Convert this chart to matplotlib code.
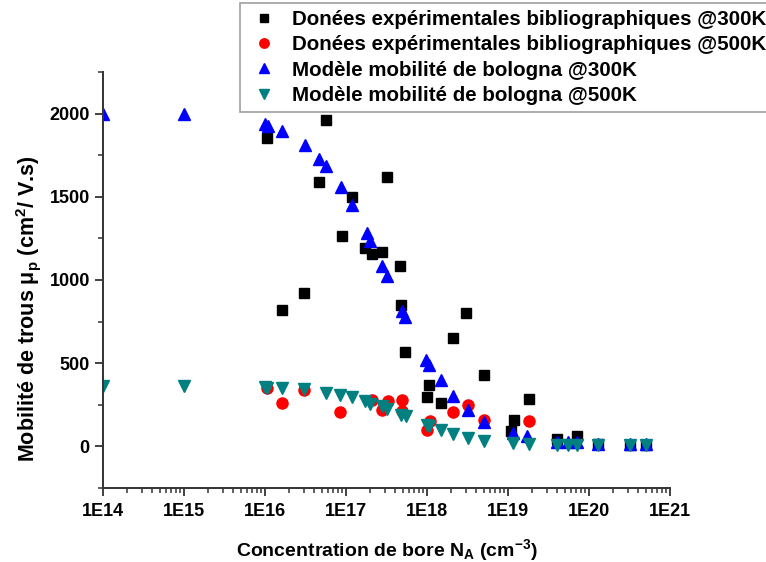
import math
import matplotlib
matplotlib.use("Agg")
import matplotlib.pyplot as plt
from matplotlib.ticker import LogLocator, FixedLocator, NullFormatter, FuncFormatter

plt.rcParams['font.family'] = ['Liberation Sans', 'DejaVu Sans']
plt.rcParams['font.weight'] = 'bold'
plt.rcParams['mathtext.fontset'] = 'custom'
plt.rcParams['mathtext.rm'] = 'Liberation Sans:bold'
plt.rcParams['mathtext.it'] = 'Liberation Sans:bold'
plt.rcParams['mathtext.bf'] = 'Liberation Sans:bold'

# Black squares: experimental @300K
exp300_x = [1.07e16, 1.6e16, 3.0e16, 4.7e16, 5.7e16, 8.9e16, 1.2e17, 1.7e17, 2.1e17,
            2.8e17, 3.2e17, 4.6e17, 4.8e17, 5.4e17, 1.0e18, 1.07e18, 1.5e18, 2.1e18,
            3.0e18, 5.0e18, 1.1e19, 1.2e19, 1.8e19, 4.0e19, 7.2e19, 1.3e20, 3.2e20, 5.1e20]
exp300_y = [1856, 820, 920, 1590, 1960, 1266, 1500, 1194, 1154,
            1170, 1616, 1086, 850, 570, 294, 370, 260, 650,
            800, 430, 90, 160, 284, 44, 64, 12, 8, 10]

# Red circles: experimental @500K
exp500_x = [1.07e16, 1.6e16, 3.0e16, 8.5e16, 2.1e17, 2.8e17, 3.3e17, 4.9e17, 4.9e17,
            1.0e18, 1.1e18, 2.1e18, 3.2e18, 5.1e18, 1.8e19]
exp500_y = [350, 260, 340, 204, 276, 220, 274, 276, 214,
            100, 154, 206, 250, 156, 150]

# Blue triangles: Bologna model @300K
mod300_x = [1e14, 1e15, 1.0e16, 1.1e16, 1.64e16, 3.1e16, 4.7e16, 5.7e16, 8.7e16, 1.2e17,
            1.8e17, 2.0e17, 2.8e17, 3.2e17, 4.9e17, 5.4e17, 9.8e17, 1.07e18, 1.5e18,
            2.1e18, 3.2e18, 5.1e18, 1.15e19, 1.7e19, 4.0e19, 5.5e19, 7.2e19, 1.3e20,
            3.2e20, 5.1e20]
mod300_y = [2000, 2000, 1935, 1925, 1893, 1810, 1725, 1683, 1557, 1449,
            1282, 1234, 1084, 1024, 814, 778, 520, 490, 400,
            304, 220, 148, 82, 64, 28, 28, 28, 16,
            16, 16]

# Teal inverted triangles: Bologna model @500K
mod500_x = [1e14, 1e15, 1.0e16, 1.07e16, 1.6e16, 3.0e16, 5.7e16, 8.5e16, 1.2e17, 1.74e17,
            2.0e17, 2.8e17, 3.2e17, 4.8e17, 5.5e17, 1.0e18, 1.07e18, 1.5e18, 2.1e18,
            3.2e18, 5.1e18, 1.15e19, 1.8e19, 4.0e19, 5.5e19, 7.2e19, 1.3e20, 3.2e20, 5.1e20]
mod500_y = [360, 360, 356, 352, 350, 344, 320, 306, 294, 270,
            256, 240, 226, 190, 180, 128, 120, 96, 76,
            50, 34, 20, 14, 8, 8, 8, 8, 8, 8]

labels = ["Donées expérimentales bibliographiques @300K",
          "Donées expérimentales bibliographiques @500K",
          "Modèle mobilité de bologna @300K",
          "Modèle mobilité de bologna @500K"]

fig = plt.figure(figsize=(7.66, 5.62), dpi=100)
ax = fig.add_axes([103/766, 1-488/562, (670-103)/766, (488-72)/562])

ax.plot(exp300_x, exp300_y, ls='none', marker='s', ms=7.5, color='black', label=labels[0])
ax.plot(exp500_x, exp500_y, ls='none', marker='o', ms=8, color='red', label=labels[1])
ax.plot(mod300_x, mod300_y, ls='none', marker='^', ms=9, color='#0000ff', label=labels[2])
ax.plot(mod500_x, mod500_y, ls='none', marker='v', ms=9, color='#008080', label=labels[3])

ax.set_xscale('log')
ax.set_xlim(1e14, 1e21)
ax.set_ylim(-250, 2250)
ax.xaxis.set_major_locator(LogLocator(base=10, numticks=20))
ax.xaxis.set_minor_locator(LogLocator(base=10, subs=[2, 3, 4, 5, 6, 7, 8, 9], numticks=100))
ax.xaxis.set_minor_formatter(NullFormatter())
ax.xaxis.set_major_formatter(FuncFormatter(lambda v, p: "1E%d" % round(math.log10(v))))
ax.yaxis.set_major_locator(FixedLocator([0, 500, 1000, 1500, 2000]))
ax.yaxis.set_minor_locator(FixedLocator([-250, 250, 750, 1250, 1750, 2250]))

for s in ['top', 'right']:
    ax.spines[s].set_visible(False)
for s in ['left', 'bottom']:
    ax.spines[s].set_color('#333333')
    ax.spines[s].set_linewidth(1.4)

ax.tick_params(axis='both', which='major', direction='out', length=6, width=1.3,
               labelsize=13, colors='#333333', labelcolor='black')
ax.tick_params(axis='both', which='minor', direction='out', length=3.5, width=1.1, colors='#333333')
ax.tick_params(axis='x', which='major', pad=5)
for lab in ax.get_xticklabels() + ax.get_yticklabels():
    lab.set_fontweight('bold')

ax.set_xlabel("Concentration de bore N$_\\mathrm{A}$ (cm$^{-3}$)", fontsize=14,
              fontweight='bold', labelpad=12)
ax.set_ylabel("Mobilité de trous $\\mu_\\mathrm{p}$ (cm$^2$/ V.s)", fontsize=15.5,
              fontweight='bold')
ax.yaxis.set_label_coords((43 - 103) / 567, 0.43)

leg = fig.legend(loc='upper left', bbox_to_anchor=(240/766, 1-3/562), fontsize=14.8,
                 frameon=True, fancybox=False, edgecolor='#888888', borderpad=0.35,
                 labelspacing=0.3, handletextpad=0.6, handlelength=1.6, borderaxespad=0,
                 markerscale=0.85)
leg.get_frame().set_linewidth(1.2)
for t in leg.get_texts():
    t.set_fontweight('bold')

fig.savefig("out.png", dpi=100)
